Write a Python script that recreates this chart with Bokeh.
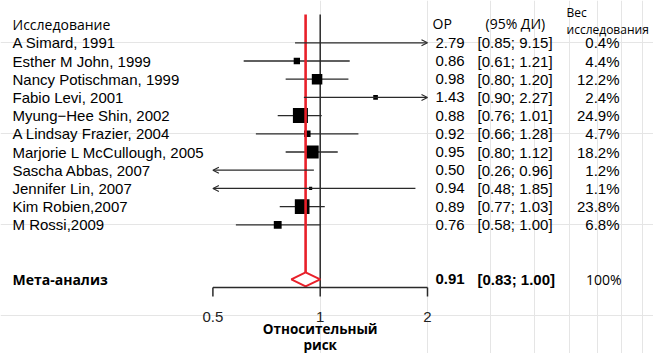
from bokeh.plotting import figure
from bokeh.models import Range1d, ColumnDataSource, Arrow, OpenHead, LogScale
from bokeh.core.properties import value
from bokeh.embed import file_html
from bokeh.resources import INLINE

# ---------------- data ----------------
studies = ["A Simard, 1991", "Esther M John, 1999", "Nancy Potischman, 1999",
           "Fabio Levi, 2001", "Myung\u2212Hee Shin, 2002", "A Lindsay Frazier, 2004",
           "Marjorie L McCullough, 2005", "Sascha Abbas, 2007", "Jennifer Lin, 2007",
           "Kim Robien,2007", "M Rossi,2009"]
rr = [2.79, 0.86, 0.98, 1.43, 0.88, 0.92, 0.95, 0.50, 0.94, 0.89, 0.76]
ci_lo = [0.85, 0.61, 0.80, 0.90, 0.76, 0.66, 0.80, 0.26, 0.48, 0.77, 0.58]
ci_hi = [9.15, 1.21, 1.20, 2.27, 1.01, 1.28, 1.12, 0.96, 1.85, 1.03, 1.00]
weights = [0.4, 4.4, 12.2, 2.4, 24.9, 4.7, 18.2, 1.2, 1.1, 23.8, 6.8]

meta_label = "Мета-анализ"
meta_rr = 0.91
meta_lo = 0.83
meta_hi = 1.00
meta_weight = "100%"

null_value = 1.0
ticks = [0.5, 1, 2]
tick_labels = ["0.5", "1", "2"]
x_title = ["Относительный", "риск"]
hdr_study = "Исследование"
hdr_rr = "ОР"
hdr_ci = "(95% ДИ)"
hdr_w = ["Вес", "исследования"]

# ---------------- layout helpers ----------------
W, H = 653, 353
X1_PX = 319.7          # px where RR = 1
PX_PER_DOUBLING = 107.3
ROW0_PX = 42.3         # px of first study row
ROW_PX = 18.2


def px_x(page_x):
    return 2 ** ((page_x - X1_PX) / PX_PER_DOUBLING)


def px_row(page_y):
    return (page_y - ROW0_PX) / ROW_PX


xmin, xmax = min(ticks), max(ticks)
p = figure(width=W, height=H, x_axis_type="log",
           x_range=Range1d(px_x(0), px_x(W)),
           y_range=Range1d(px_row(H), px_row(0)),
           x_axis_location=None, y_axis_location=None,
           toolbar_location=None, output_backend="svg", min_border=0)
p.x_scale = LogScale()
p.outline_line_color = None
p.background_fill_color = "white"
p.border_fill_color = "white"

n = len(studies)
rows = list(range(n))
meta_row = n + 2
axis_row = px_row(287)
top_row = px_row(14)

INK = "#2a2a2a"
RED = "#e8202a"
ARIAL = value("Liberation Sans")
OPEN = value("Open Sans")

# null line
p.segment(x0=[null_value], y0=[top_row], x1=[null_value], y1=[axis_row],
          line_color=INK, line_width=1.5)

# whiskers
seg = dict(x0=[], x1=[], y=[])
arr = dict(xs=[], xe=[], y=[])
for i in rows:
    lo, hi = ci_lo[i], ci_hi[i]
    if lo < xmin:
        arr["xs"].append(min(hi, xmax)); arr["xe"].append(xmin); arr["y"].append(i)
    elif hi > xmax:
        arr["xs"].append(max(lo, xmin)); arr["xe"].append(xmax); arr["y"].append(i)
    else:
        seg["x0"].append(lo); seg["x1"].append(hi); seg["y"].append(i)
p.segment(x0="x0", y0="y", x1="x1", y1="y", source=ColumnDataSource(seg),
          line_color=INK, line_width=1.3)
p.add_layout(Arrow(end=OpenHead(size=6, line_width=1.1, line_color=INK),
                   x_start="xs", y_start="y", x_end="xe", y_end="y",
                   line_color=INK, line_width=1.3,
                   source=ColumnDataSource(arr)))

# squares (area proportional to weight)
wmax = max(weights)
sq = dict(x=[], y=[], s=[])
for i in rows:
    if xmin < rr[i] < xmax:
        sq["x"].append(rr[i]); sq["y"].append(i)
        sq["s"].append(15.0 * (weights[i] / wmax) ** 0.5)
p.scatter(x="x", y="y", size="s", marker="square", source=ColumnDataSource(sq),
          fill_color="black", line_color=None)

# pooled estimate line and diamond
dh = 7.0 / ROW_PX
p.segment(x0=[meta_rr], y0=[top_row], x1=[meta_rr], y1=[meta_row - dh],
          line_color=RED, line_width=2.6)
p.patch(x=[meta_lo, meta_rr, meta_hi, meta_rr],
        y=[meta_row, meta_row - dh, meta_row, meta_row + dh],
        fill_color="white", line_color=RED, line_width=2)

# axis (drawn in data space)
tick_len = 9.0 / ROW_PX
p.segment(x0=[xmin], y0=[axis_row], x1=[xmax], y1=[axis_row],
          line_color=INK, line_width=1.5)
p.segment(x0=ticks, y0=[axis_row] * len(ticks), x1=ticks,
          y1=[axis_row + tick_len] * len(ticks), line_color=INK, line_width=1.5)
p.text(x=ticks, y=[px_row(316)] * len(ticks), text=tick_labels,
       text_font=ARIAL, text_font_size="15px", text_align="center",
       text_baseline="middle", text_color="#222222")
p.text(x=[null_value, null_value], y=[px_row(328), px_row(344)], text=x_title,
       text_font=OPEN, text_font_size="13.5px", text_font_style="bold",
       text_align="center", text_baseline="middle", text_color="black")

# left column
p.text(x=[px_x(12)], y=[-1], text=[hdr_study], text_font=OPEN,
       text_font_size="14px", text_baseline="middle", text_color="black")
p.text(x=[px_x(12)] * n, y=rows, text=studies, text_font=ARIAL,
       text_font_size="15px", text_baseline="middle", text_color="black")
p.text(x=[px_x(12)], y=[meta_row], text=[meta_label], text_font=OPEN,
       text_font_size="14px", text_font_style="bold", text_baseline="middle",
       text_color="black")

# right columns
rr_txt = ["%.2f" % v for v in rr]
ci_txt = ["[%.2f; %.2f]" % (a, b) for a, b in zip(ci_lo, ci_hi)]
w_txt = ["%.1f%%" % v for v in weights]
p.text(x=[px_x(432)], y=[-1.05], text=[hdr_rr], text_font=OPEN,
       text_font_size="14px", text_baseline="middle", text_color="black")
p.text(x=[px_x(485)], y=[-1.05], text=[hdr_ci], text_font=OPEN,
       text_font_size="14px", text_baseline="middle", text_color="black")
p.text(x=[px_x(566)], y=[px_row(12)], text=[hdr_w[0]], text_font=OPEN,
       text_font_size="12px", text_baseline="middle", text_color="black")
p.text(x=[px_x(566)], y=[px_row(28.5)], text=[hdr_w[1]], text_font=OPEN,
       text_font_size="12px", text_baseline="middle", text_color="black")

p.text(x=[px_x(435)] * n, y=rows, text=rr_txt, text_font=ARIAL,
       text_font_size="15px", text_baseline="middle", text_color="black")
p.text(x=[px_x(477)] * n, y=rows, text=ci_txt, text_font=ARIAL,
       text_font_size="15px", text_baseline="middle", text_color="black")
p.text(x=[px_x(619)] * n, y=rows, text=w_txt, text_font=ARIAL,
       text_font_size="15px", text_baseline="middle", text_align="right",
       text_color="black")

p.text(x=[px_x(435)], y=[meta_row], text=["%.2f" % meta_rr], text_font=ARIAL,
       text_font_size="15px", text_font_style="bold", text_baseline="middle",
       text_color="black")
p.text(x=[px_x(477)], y=[meta_row], text=["[%.2f; %.2f]" % (meta_lo, meta_hi)],
       text_font=ARIAL, text_font_size="15px", text_font_style="bold",
       text_baseline="middle", text_color="black")
p.text(x=[px_x(621)], y=[meta_row], text=[meta_weight], text_font=OPEN,
       text_font_size="14px", text_baseline="middle", text_align="right",
       text_color="black")

open("out.html", "w").write(file_html(p, INLINE))
